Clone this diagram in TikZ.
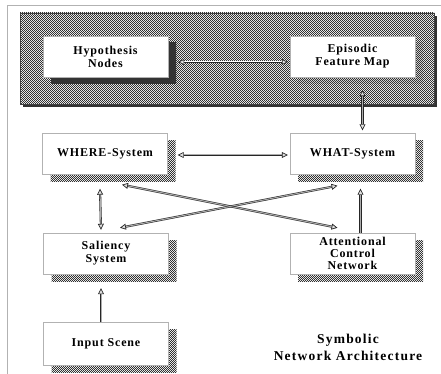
\documentclass[tikz,border=0pt]{standalone}
\usepackage{fontspec}
\setmainfont{Liberation Serif}
\newfontfamily\boxfont[LetterSpace=7]{Liberation Serif}
\newfontfamily\titlefont[LetterSpace=9]{Liberation Serif}
\usetikzlibrary{arrows.meta,patterns,shadows}
\pgfdeclarepatternformonly{finecheck}{\pgfpointorigin}{\pgfpoint{2.4pt}{2.4pt}}{\pgfpoint{2.4pt}{2.4pt}}{%
  \pgfpathrectangle{\pgfpointorigin}{\pgfpoint{1.2pt}{1.2pt}}%
  \pgfpathrectangle{\pgfpoint{1.2pt}{1.2pt}}{\pgfpoint{1.2pt}{1.2pt}}%
  \pgfusepath{fill}}
\begin{document}
\begin{tikzpicture}[x=1pt,y=-1pt,
  hatch/.style={pattern=finecheck, pattern color=gray!40!black},
  box/.style={draw=gray!60, fill=white, line width=0.4pt,
    minimum width=125pt, minimum height=41pt, inner sep=0pt, align=center,
    font=\boxfont\bfseries\fontsize{12}{13}\selectfont,
    general shadow={pattern=finecheck, pattern color=gray!40!black, shadow xshift=8pt, shadow yshift=-7pt}},
  tip/.tip={Triangle[open,length=6pt,width=6pt,line width=0.7pt,fill=gray!25]},
  conn/.style={draw=gray!30!black, line width=0.55pt, double=gray!65, double distance=1pt},
  both/.style={conn,tip-tip},
  one/.style={conn,-tip}]
\useasboundingbox (0,0) rectangle (441,374);
% outer frame
\draw[gray!60, line width=0.6pt] (7,374) -- (7,5) -- (441,5);
% top panel
\fill[gray!40!black] (23,16) rectangle (437,107);
\fill[white] (20,13) rectangle (434,104);
\fill[hatch] (20,13) rectangle (434,104);
\draw[gray!50!black, line width=0.4pt] (20,13) rectangle (434,104);
% boxes
\node[box] (hyp) at (105.5,56.5) {Hypothesis\\Nodes};
\node[box] (epi) at (352.5,56.5) {Episodic\\Feature Map};
\node[box] (where) at (105,154) {WHERE-System};
\node[box] (what) at (352.5,154) {WHAT-System};
\node[box] (sal) at (106,253.5) {Saliency\\System};
\node[box, font=\boxfont\bfseries\fontsize{12}{12}\selectfont] (att) at (352.5,253.5) {Attentional\\Control\\Network};
\node[box, minimum height=43pt] (inp) at (106,344) {Input Scene};
% connectors
\draw[both, double=white] ([shift={(10,5.5)}]hyp.east) -- ([shift={(-2,5.5)}]epi.west);
\draw[both] ([shift={(10,13)}]epi.south) -- ([shift={(10,-3)}]what.north);
\draw[both] ([shift={(10,1)}]where.east) -- ([shift={(-2,1)}]what.west);
\draw[both] ([shift={(-5,14)}]where.south) -- ([shift={(-5,-3)}]sal.north);
\draw[one] ([xshift=-5]inp.north) -- ([shift={(-5,14)}]sal.south);
\draw[one] ([xshift=8]att.north) -- ([shift={(8,14)}]what.south);
\draw[both] ([shift={(17,10)}]where.south) -- ([shift={(-15,-5)}]att.north);
\draw[both] ([shift={(-15,11)}]what.south) -- ([shift={(14,-5)}]sal.north);
% caption
\node[font=\titlefont\bfseries\fontsize{13.5}{17}\selectfont, align=center] (cap) at (348,347) {Symbolic\\Network Architecture};
\end{tikzpicture}
\end{document}
